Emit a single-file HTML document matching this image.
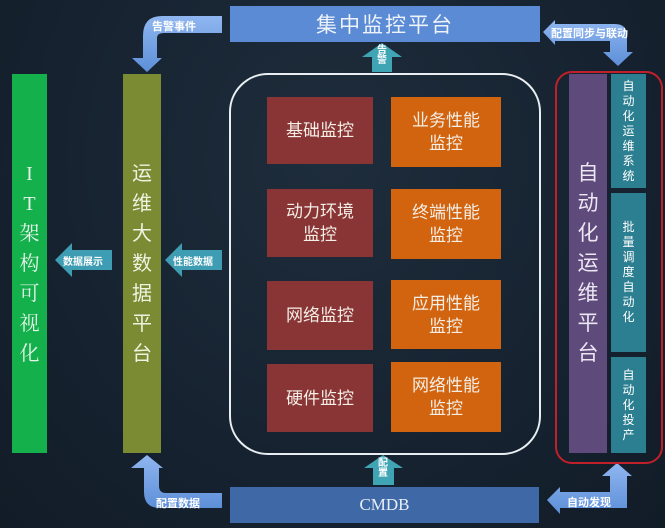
<!DOCTYPE html>
<html><head><meta charset="utf-8"><style>
*{margin:0;padding:0;box-sizing:border-box}
body{width:665px;height:528px;overflow:hidden;background:radial-gradient(ellipse at 50% 30%,#1e2d3c 0%,#162230 60%,#121c27 100%);font-family:"Liberation Sans","Noto Sans CJK SC",sans-serif;position:relative;color:#fff}
.a{position:absolute}
.vt{display:flex;flex-direction:column;align-items:center;justify-content:center;text-align:center}
.box{position:absolute;display:flex;align-items:center;justify-content:center;text-align:center;font-size:17px;line-height:23px;color:#f3eee6}
.r{background:#8a3535}.o{background:#d3640f}
.lbl{position:absolute;font-size:11px;font-weight:bold;color:#fff;white-space:nowrap}
</style></head><body>
<svg class="a" style="left:0;top:0" width="665" height="528">
<defs>
<linearGradient id="bl" x1="0" x2="0" y1="0" y2="1"><stop offset="0" stop-color="#8fb6f0"/><stop offset="1" stop-color="#5d8fd8"/></linearGradient>
</defs>
<path d="M222,16 L162,16 Q143,16 143,36 L143,58 L132,58 L147,72 L162,58 L157,58 L157,38 Q157,33 164,33 L222,33 Z" fill="url(#bl)"/>
<path d="M543,32 L555,20 L555,24 L615,24 Q627,24 627,36 L627,52 L633,52 L618,66 L603,52 L610,52 L610,41 L555,41 L555,45 Z" fill="url(#bl)"/>
<path d="M362,57 L382,43 L402,57 L392,57 L392,72 L372,72 L372,57 Z" fill="#3fa4b4"/>
<path d="M55,260 L72,243 L72,250 L112,250 L112,270 L72,270 L72,277 Z" fill="#3f9db3"/>
<path d="M165,260 L182,243 L182,250 L222,250 L222,270 L182,270 L182,277 Z" fill="#3f9db3"/>
<path d="M222,493 L166,493 Q159,493 159,486 L159,468 L163,468 L147,455 L131,468 L144,468 L144,492 Q144,508 160,508 L222,508 Z" fill="url(#bl)"/>
<path d="M364,468 L383,455 L403,468 L394,468 L394,485 L373,485 L373,468 Z" fill="#3fa4b4"/>
<path d="M547,500 L560,487 L560,492 L610,492 L610,476 L602,476 L617,463 L632,476 L627,476 L627,508 L560,508 L560,514 Z" fill="url(#bl)"/>
<rect x="230" y="74" width="310" height="380" rx="38" fill="none" stroke="#e8eef2" stroke-width="2"/>
<rect x="556" y="72" width="106" height="391" rx="16" fill="none" stroke="#c0202a" stroke-width="2"/>
</svg>
<div class="a" style="left:230px;top:6px;width:310px;height:36px;background:#5a8bd4;display:flex;align-items:center;justify-content:center;font-size:21px;letter-spacing:2px;color:#eef3fa">集中监控平台</div>
<div class="lbl" style="left:152px;top:18px">告警事件</div>
<div class="lbl" style="left:551px;top:25px">配置同步与联动</div>
<div class="lbl" style="left:377px;top:46px;font-size:10px;line-height:10px;width:11px;white-space:normal">告警</div>
<div class="lbl" style="left:63px;top:253px;font-size:10px">数据展示</div>
<div class="lbl" style="left:173px;top:253px;font-size:10px">性能数据</div>
<div class="lbl" style="left:156px;top:495px">配置数据</div>
<div class="lbl" style="left:378px;top:459px;font-size:10px;line-height:10px;width:11px;white-space:normal">配置</div>
<div class="lbl" style="left:567px;top:494px">自动发现</div>

<div class="a vt" style="left:12px;top:74px;width:35px;height:379px;background:#13b04b;font-size:20px;line-height:30px;color:#e6f5ea;font-family:'Liberation Serif','Noto Serif CJK SC',serif">I<br>T<br>架<br>构<br>可<br>视<br>化</div>
<div class="a vt" style="left:123px;top:74px;width:38px;height:379px;background:#7a8b34;font-size:20px;line-height:30px;color:#f0f2e0">运<br>维<br>大<br>数<br>据<br>平<br>台</div>

<div class="box r" style="left:267px;top:97px;width:106px;height:67px">基础监控</div>
<div class="box r" style="left:267px;top:189px;width:106px;height:68px">动力环境<br>监控</div>
<div class="box r" style="left:267px;top:281px;width:106px;height:69px">网络监控</div>
<div class="box r" style="left:267px;top:364px;width:106px;height:68px">硬件监控</div>
<div class="box o" style="left:391px;top:97px;width:110px;height:70px">业务性能<br>监控</div>
<div class="box o" style="left:391px;top:189px;width:110px;height:70px">终端性能<br>监控</div>
<div class="box o" style="left:391px;top:280px;width:110px;height:69px">应用性能<br>监控</div>
<div class="box o" style="left:391px;top:362px;width:110px;height:70px">网络性能<br>监控</div>

<div class="a vt" style="left:569px;top:74px;width:38px;height:379px;background:#5e4b7c;font-size:21px;line-height:30px;color:#ece6f2">自<br>动<br>化<br>运<br>维<br>平<br>台</div>
<div class="a vt" style="left:611px;top:74px;width:35px;height:114px;background:#2b7f90;font-size:12px;line-height:15px">自<br>动<br>化<br>运<br>维<br>系<br>统</div>
<div class="a vt" style="left:611px;top:193px;width:35px;height:159px;background:#2b7f90;font-size:12px;line-height:15px">批<br>量<br>调<br>度<br>自<br>动<br>化</div>
<div class="a vt" style="left:611px;top:357px;width:35px;height:96px;background:#2b7f90;font-size:12px;line-height:15px">自<br>动<br>化<br>投<br>产</div>

<div class="a" style="left:230px;top:487px;width:309px;height:36px;background:#3e68a6;display:flex;align-items:center;justify-content:center;font-size:17px;font-family:'Liberation Serif',serif;color:#e8eef6">CMDB</div>
</body></html>
